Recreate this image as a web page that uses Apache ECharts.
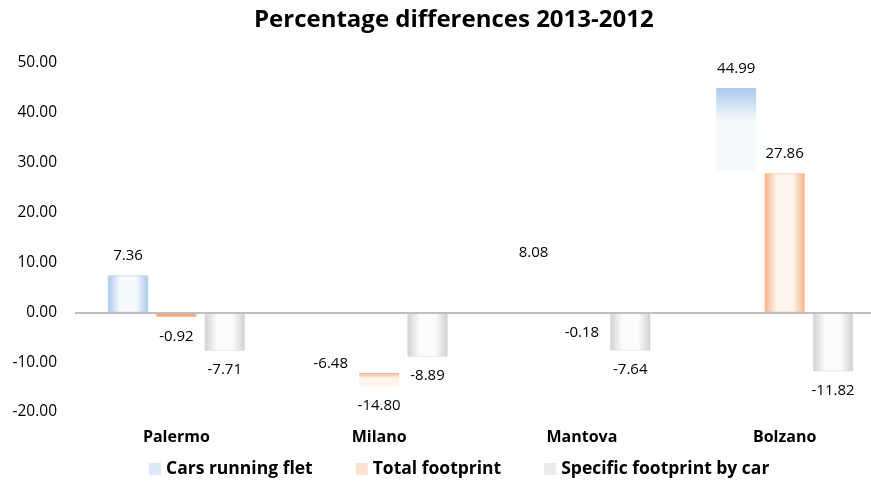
<!DOCTYPE html>
<html>
<head>
<meta charset="utf-8">
<script src="https://cdn.jsdelivr.net/npm/echarts@6/dist/echarts.min.js"></script>
<style>
  html, body { margin: 0; padding: 0; background: #fff; }
  #chart { width: 871px; height: 491px; }
</style>
</head>
<body>
<div id="chart"></div>
<script>
const cities = ["Palermo", "Milano", "Mantova", "Bolzano"];
const seriesNames = ["Cars running flet", "Total footprint", "Specific footprint by car"];
const carsRunning = [7.36, -6.48, 8.08, 44.99];
const totalFootprint = [-0.92, -14.8, -0.18, 27.86];
const specificFootprint = [-7.71, -8.89, -7.64, -11.82];
const yTicks = [-20, -10, 0, 10, 20, 30, 40, 50];

const FONT = "Open Sans";

// colour per series: [edge, centre]
const palette = [
  ["#a9c9ea", "#f7fafd"],
  ["#f5b48a", "#fef5ee"],
  ["#d2d2d2", "#fbfbfb"]
];
const legendColors = ["#dce9f6", "#fbe2d2", "#ececec"];

// how the original picture shows some bars: hidden, or only a part of it drawn
// key = series-category, value = [from, to] fraction of the bar that is visible
const partial = {
  "0-1": null, "0-2": null, "1-2": null,
  "0-3": [0, 0.37],
  "1-1": [0.82, 1]
};

function glow(edge, centre) {
  return new echarts.graphic.LinearGradient(0, 0, 1, 0, [
    { offset: 0, color: edge },
    { offset: 0.3, color: centre },
    { offset: 0.7, color: centre },
    { offset: 1, color: edge }
  ]);
}

function itemStyleFor(s, c, v) {
  const [edge, centre] = palette[s];
  const key = s + "-" + c;
  if (key in partial) {
    const p = partial[key];
    if (p === null) return { color: "rgba(0,0,0,0)" };
    const clear = "rgba(255,255,255,0)";
    const stops = [];
    if (p[0] > 0) {
      stops.push({ offset: 0, color: clear });
      stops.push({ offset: p[0], color: clear });
    }
    stops.push({ offset: p[0], color: edge });
    stops.push({ offset: p[0] + (p[1] - p[0]) * 0.4, color: centre });
    stops.push({ offset: p[1] - 0.001, color: centre });
    if (p[1] < 1) {
      stops.push({ offset: p[1], color: clear });
      stops.push({ offset: 1, color: clear });
    }
    return { color: new echarts.graphic.LinearGradient(0, 0, 0, 1, stops) };
  }
  if (Math.abs(v) < 2) return { color: "#f4a774" };
  return { color: glow(edge, centre), borderColor: edge, borderWidth: 0.5 };
}

function buildSeries(values, s) {
  return {
    name: seriesNames[s],
    type: "bar",
    barWidth: 40,
    barGap: "21%",
    data: values.map((v, c) => ({
      value: v,
      itemStyle: itemStyleFor(s, c, v),
      label: {
        position: v >= 0 ? "top" : "bottom",
        distance: 12
      }
    })),
    label: {
      show: true,
      fontFamily: FONT,
      fontSize: 15,
      color: "#000",
      formatter: (p) => p.value.toFixed(2)
    }
  };
}

const series = [carsRunning, totalFootprint, specificFootprint].map(buildSeries);
series[0].markLine = {
  silent: true,
  symbol: "none",
  label: { show: false },
  lineStyle: { color: "#bfbfbf", width: 2, type: "solid" },
  data: [{ yAxis: 0 }]
};

const chart = echarts.init(document.getElementById("chart"));
chart.setOption({
  animation: false,
  color: legendColors,
  title: {
    text: "Percentage differences 2013-2012",
    left: 249,
    top: 3,
    textStyle: { fontFamily: FONT, fontSize: 24, fontWeight: "bold", color: "#000" }
  },
  legend: {
    left: 144,
    bottom: 8,
    itemWidth: 12,
    itemHeight: 12,
    itemGap: 43,
    icon: "rect",
    textStyle: { fontFamily: FONT, fontSize: 17.5, fontWeight: "bold", color: "#000" },
    data: seriesNames
  },
  grid: {
    left: 75, width: 811, top: 63, bottom: 79,
    containLabel: false, outerBoundsMode: "none"
  },
  xAxis: {
    type: "category",
    data: cities,
    axisLine: { show: false, onZero: false },
    axisTick: { show: false },
    axisLabel: { fontFamily: FONT, fontSize: 16, fontWeight: "bold", color: "#000", margin: 17 }
  },
  yAxis: {
    type: "value",
    min: yTicks[0],
    max: yTicks[yTicks.length - 1],
    interval: 10,
    splitLine: { show: false },
    axisLine: { show: false },
    axisTick: { show: false },
    axisLabel: {
      fontFamily: FONT,
      fontSize: 15.5,
      color: "#000",
      margin: 18,
      formatter: (v) => v.toFixed(2)
    }
  },
  series: series
});
</script>
</body>
</html>
